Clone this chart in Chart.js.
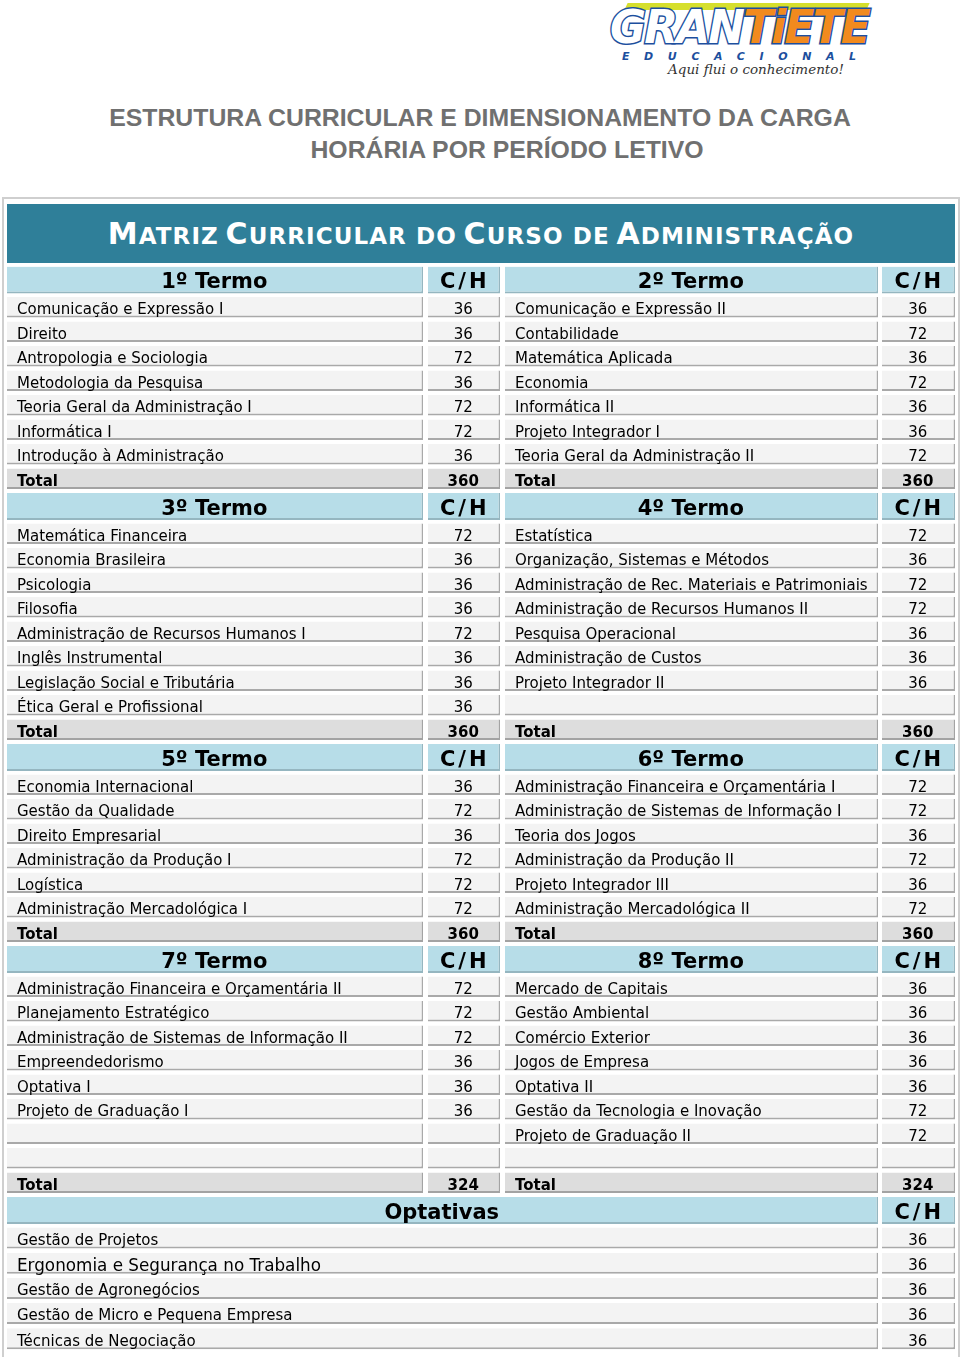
<!DOCTYPE html>
<html lang="pt-BR"><head><meta charset="utf-8">
<script src="https://cdn.jsdelivr.net/npm/chart.js@4.4.1/dist/chart.umd.min.js"></script>
<style>
html,body{margin:0;padding:0;background:#fff;}
#wrap{position:relative;width:960px;height:1357px;overflow:hidden;}
#logo .bar{position:absolute;left:626px;top:3px;width:242px;height:7px;background:#d6df2c;transform:skewX(-25deg);}
#logo .gt{position:absolute;left:610px;top:3px;font-family:'DejaVu Sans';font-weight:bold;font-style:italic;font-size:47px;line-height:47px;letter-spacing:-2px;-webkit-text-stroke:3px #1d4f9e;paint-order:stroke fill;transform-origin:left top;transform:scaleX(0.935);white-space:nowrap;}
#logo .gt .w{color:#ffffff;}
#logo .gt .o{color:#f28a1e;}
#logo .edu{position:absolute;left:622px;top:50px;font-family:'DejaVu Sans';font-weight:bold;font-style:italic;font-size:11px;color:#1d4f9e;letter-spacing:14.6px;white-space:nowrap;}
#logo .tag{position:absolute;left:668px;top:61px;font-family:'DejaVu Serif';font-style:italic;font-size:13.5px;color:#333;white-space:nowrap;}
.tl{position:absolute;left:0;width:960px;text-align:center;font-family:'Liberation Sans';font-weight:bold;font-size:24.8px;line-height:32px;color:#707070;white-space:nowrap;}
#t1{top:102px;}
#t2{top:134px;left:27px;}
#frame{position:absolute;left:2px;top:197px;width:954px;height:1200px;border:2px solid #cfcfcf;}
#banner{position:absolute;left:7px;top:204px;width:948px;height:59px;background:#2f7f99;color:#fff;font-family:'DejaVu Sans';font-weight:bold;text-align:center;line-height:60px;white-space:nowrap;letter-spacing:1.1px;}
#banner .B{font-size:30px;}
#banner .s{font-size:23px;}
#c{position:absolute;left:0;top:0;}
</style></head>
<body><div id="wrap">
<div id="logo"><div class="bar"></div><div class="gt"><span class="w">GRAN</span><span class="o">TiETE</span></div><div class="edu">EDUCACIONAL</div><div class="tag">Aqui flui o conhecimento!</div></div>
<div class="tl" id="t1">ESTRUTURA CURRICULAR E DIMENSIONAMENTO DA CARGA</div>
<div class="tl" id="t2">HORÁRIA POR PERÍODO LETIVO</div>
<div id="frame"></div>
<div id="banner"><span class="B">M</span><span class="s">ATRIZ</span> <span class="B">C</span><span class="s">URRICULAR DO</span> <span class="B">C</span><span class="s">URSO DE</span> <span class="B">A</span><span class="s">DMINISTRAÇÃO</span></div>
<canvas id="c" width="960" height="1357"></canvas>
</div>
<script>
// ---------- DATA ----------
const termTitles = ['1º Termo','2º Termo','3º Termo','4º Termo','5º Termo','6º Termo','7º Termo','8º Termo'];
const hoursHeader = 'C/H';
const totalLabel = 'Total';
const term1 = ['Comunicação e Expressão I','Direito','Antropologia e Sociologia','Metodologia da Pesquisa','Teoria Geral da Administração I','Informática I','Introdução à Administração'];
const hours1 = [36,36,72,36,72,72,36];
const term2 = ['Comunicação e Expressão II','Contabilidade','Matemática Aplicada','Economia','Informática II','Projeto Integrador I','Teoria Geral da Administração II'];
const hours2 = [36,72,36,72,36,36,72];
const term3 = ['Matemática Financeira','Economia Brasileira','Psicologia','Filosofia','Administração de Recursos Humanos I','Inglês Instrumental','Legislação Social e Tributária','Ética Geral e Profissional'];
const hours3 = [72,36,36,36,72,36,36,36];
const term4 = ['Estatística','Organização, Sistemas e Métodos','Administração de Rec. Materiais e Patrimoniais','Administração de Recursos Humanos II','Pesquisa Operacional','Administração de Custos','Projeto Integrador II'];
const hours4 = [72,36,72,72,36,36,36];
const term5 = ['Economia Internacional','Gestão da Qualidade','Direito Empresarial','Administração da Produção I','Logística','Administração Mercadológica I'];
const hours5 = [36,72,36,72,72,72];
const term6 = ['Administração Financeira e Orçamentária I','Administração de Sistemas de Informação I','Teoria dos Jogos','Administração da Produção II','Projeto Integrador III','Administração Mercadológica II'];
const hours6 = [72,72,36,72,36,72];
const term7 = ['Administração Financeira e Orçamentária II','Planejamento Estratégico','Administração de Sistemas de Informação II','Empreendedorismo','Optativa I','Projeto de Graduação I'];
const hours7 = [72,72,72,36,36,36];
const term8 = ['Mercado de Capitais','Gestão Ambiental','Comércio Exterior','Jogos de Empresa','Optativa II','Gestão da Tecnologia e Inovação','Projeto de Graduação II'];
const hours8 = [36,36,36,36,36,72,72];
const termTotals = [360,360,360,360,360,360,324,324];
const optTitle = 'Optativas';
const optSubjects = ['Gestão de Projetos','Ergonomia e Segurança no Trabalho','Gestão de Agronegócios','Gestão de Micro e Pequena Empresa','Técnicas de Negociação'];
const optHours = [36,36,36,36,36];

// ---------- LAYOUT (styles / sizes) ----------
const subjects = [term1,term2,term3,term4,term5,term6,term7,term8];
const hours = [hours1,hours2,hours3,hours4,hours5,hours6,hours7,hours8];
const blockExtraRows = [0,0,0,1];
const UNIT = 24.5;                    // px per data row
const SLOT = {data:1, header:30.5/UNIT, opt:25.2/UNIT};
const THICK = {data:20.5, header:27, opt:21};
const TOP = 266.5, LEFT = 7, RIGHT_EDGE = 955;
const TEXT_DY = 3;
const COLS = {name1:[0,416], ch1:[421,493], name2:[498,871], ch2:[875,948], optName:[0,871]};

const cells = {data:[], total:[], header:[], opt:[]};
let cursor = 0;
function addRow(kind, slotKind, items){
  const thick = THICK[slotKind];
  const yc = cursor + (thick/2)/UNIT;
  items.forEach(it => cells[kind].push({x: COLS[it.col].slice(), y: yc, text: it.text, align: it.align, font: it.font, ls: it.ls || '0px'}));
  cursor += SLOT[slotKind];
}
const F = {txt:'15px "DejaVu Sans"', bold:'bold 15px "DejaVu Sans"', head:'bold 21px "DejaVu Sans"', big:'16.8px "DejaVu Sans"'};
for (let b = 0; b < 4; b++){
  const L = 2*b, R = 2*b+1;
  addRow('header','header',[
    {col:'name1',text:termTitles[L],align:'center',font:F.head},
    {col:'ch1',text:hoursHeader,align:'center',font:F.head,ls:'3px'},
    {col:'name2',text:termTitles[R],align:'center',font:F.head},
    {col:'ch2',text:hoursHeader,align:'center',font:F.head,ls:'3px'}]);
  const n = Math.max(subjects[L].length, subjects[R].length) + blockExtraRows[b];
  for (let i = 0; i < n; i++){
    addRow('data','data',[
      {col:'name1',text:subjects[L][i]||'',align:'left',font:F.txt},
      {col:'ch1',text:hours[L][i]!==undefined?String(hours[L][i]):'',align:'center',font:F.txt},
      {col:'name2',text:subjects[R][i]||'',align:'left',font:F.txt},
      {col:'ch2',text:hours[R][i]!==undefined?String(hours[R][i]):'',align:'center',font:F.txt}]);
  }
  addRow('total','data',[
    {col:'name1',text:totalLabel,align:'left',font:F.bold},
    {col:'ch1',text:String(termTotals[L]),align:'center',font:F.bold},
    {col:'name2',text:totalLabel,align:'left',font:F.bold},
    {col:'ch2',text:String(termTotals[R]),align:'center',font:F.bold}]);
}
addRow('header','header',[
  {col:'optName',text:optTitle,align:'center',font:F.head},
  {col:'ch2',text:hoursHeader,align:'center',font:F.head,ls:'3px'}]);
optSubjects.forEach((s,i) => addRow('opt','opt',[
  {col:'optName',text:s,align:'left',font: i===1 ? F.big : F.txt},
  {col:'ch2',text:String(optHours[i]),align:'center',font:F.txt}]));
const totalUnits = cursor;

const STY = {
  header:{bg:'#b7dde8', bd:'#95b6c0', t:THICK.header},
  data:{bg:'#f3f3f3', bd:'#a9a9a9', t:THICK.data},
  total:{bg:'#dddddd', bd:'#a3a3a3', t:THICK.data},
  opt:{bg:'#f3f3f3', bd:'#a9a9a9', t:THICK.opt}
};
const datasets = Object.keys(cells).map(k => ({
  label:k,
  data: cells[k].map(c => ({x:c.x, y:c.y})),
  cellInfo: cells[k],
  backgroundColor: STY[k].bg,
  borderColor: STY[k].bd,
  borderWidth: {top:0,left:0,right:1.5,bottom:2},
  borderSkipped: false,
  inflateAmount: 0,
  barThickness: STY[k].t,
  stack: 'cells'
}));

const textPlugin = {
  id:'cellText',
  afterDatasetsDraw(chart){
    const ctx = chart.ctx;
    ctx.save();
    ctx.fillStyle = '#000';
    ctx.textBaseline = 'middle';
    chart.data.datasets.forEach((ds, di) => {
      const meta = chart.getDatasetMeta(di);
      meta.data.forEach((el, j) => {
        const info = ds.cellInfo[j];
        if (!info.text) return;
        const p = el.getProps(['x','y','base'], true);
        const x0 = Math.min(p.x, p.base), x1 = Math.max(p.x, p.base);
        ctx.font = info.font;
        ctx.letterSpacing = info.ls;
        const yy = p.y + TEXT_DY;
        if (info.align === 'left'){ ctx.textAlign = 'left'; ctx.fillText(info.text, x0 + 10, yy); }
        else {
          ctx.textAlign = 'center';
          const extra = parseFloat(info.ls) / 2;
          ctx.fillText(info.text, (x0 + x1 - 1.5)/2 + extra, yy);
        }
      });
    });
    ctx.restore();
  }
};

new Chart(document.getElementById('c'), {
  type:'bar',
  data:{datasets},
  options:{
    indexAxis:'y',
    responsive:false,
    animation:false,
    devicePixelRatio:1,
    layout:{padding:{left:LEFT, right:960-RIGHT_EDGE, top:TOP, bottom:1357 - TOP - totalUnits*UNIT}},
    scales:{
      x:{type:'linear', min:0, max:948, display:false, stacked:false, offset:false},
      y:{type:'linear', min:0, max:totalUnits, reverse:true, display:false, stacked:true, offset:false}
    },
    plugins:{legend:{display:false}, tooltip:{enabled:false}}
  },
  plugins:[textPlugin]
});
</script>
</body></html>
